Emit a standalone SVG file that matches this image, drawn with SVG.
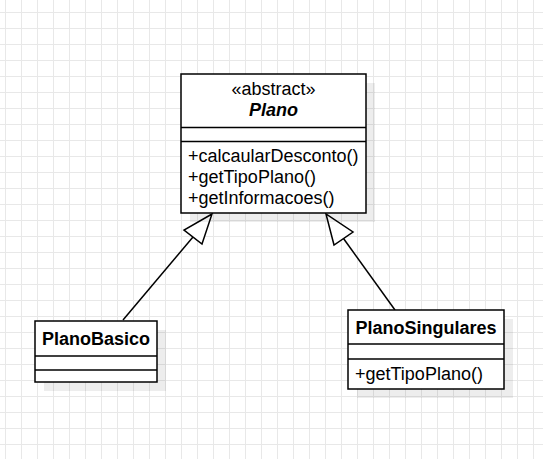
<svg xmlns="http://www.w3.org/2000/svg" width="543" height="459" viewBox="0 0 543 459">
<defs>
<pattern id="grid" x="5" y="12" width="16" height="16" patternUnits="userSpaceOnUse">
<path d="M0.5 0V16M0 0.5H16" fill="none" stroke="#e8e8e8" stroke-width="1"/>
</pattern>
</defs>
<style>
.box{fill:#fff;stroke:#000;stroke-width:1.5}
.sh{fill:#000;fill-opacity:0.07}
.ln{stroke:#000;stroke-width:1.5;fill:none}
.t{font-family:"Liberation Sans",Arial,sans-serif;font-size:18px;fill:#000}
.c{text-anchor:middle}
.b{font-weight:bold}
.tri{fill:#fff;stroke:#000;stroke-width:1.5;stroke-linejoin:miter}
</style>
<rect width="543" height="459" fill="#fff"/>
<rect width="543" height="459" fill="url(#grid)"/>
<g id="connectors">
<line class="ln" x1="193" y1="237" x2="123" y2="320"/>
<polygon class="tri" points="212,214 184,230 202,244"/>
<line class="ln" x1="343.5" y1="238.5" x2="395" y2="310"/>
<polygon class="tri" points="326,214 334,245 353,232"/>
</g>
<g id="Plano">
<rect class="sh" x="190" y="83" width="185" height="139"/>
<rect class="box" x="181" y="74" width="185" height="139"/>
<line class="ln" x1="181" y1="127.5" x2="366" y2="127.5"/>
<line class="ln" x1="181" y1="141.5" x2="366" y2="141.5"/>
<text class="t c" x="273.5" y="95">«abstract»</text>
<text class="t c b" x="273.5" y="115.5" font-style="italic">Plano</text>
<text class="t" x="188" y="162">+calcaularDesconto()</text>
<text class="t" x="188" y="183">+getTipoPlano()</text>
<text class="t" x="188" y="204">+getInformacoes()</text>
</g>
<g id="PlanoBasico">
<rect class="sh" x="44" y="330" width="122" height="61"/>
<rect class="box" x="35" y="321" width="122" height="61"/>
<line class="ln" x1="35" y1="356" x2="157" y2="356"/>
<line class="ln" x1="35" y1="370" x2="157" y2="370"/>
<text class="t c b" x="96" y="344.5">PlanoBasico</text>
</g>
<g id="PlanoSingulares">
<rect class="sh" x="357" y="319" width="156" height="79"/>
<rect class="box" x="348" y="310" width="156" height="79"/>
<line class="ln" x1="348" y1="344" x2="504" y2="344"/>
<line class="ln" x1="348" y1="359" x2="504" y2="359"/>
<text class="t c b" x="426" y="333.5">PlanoSingulares</text>
<text class="t" x="355" y="380">+getTipoPlano()</text>
</g>
</svg>
